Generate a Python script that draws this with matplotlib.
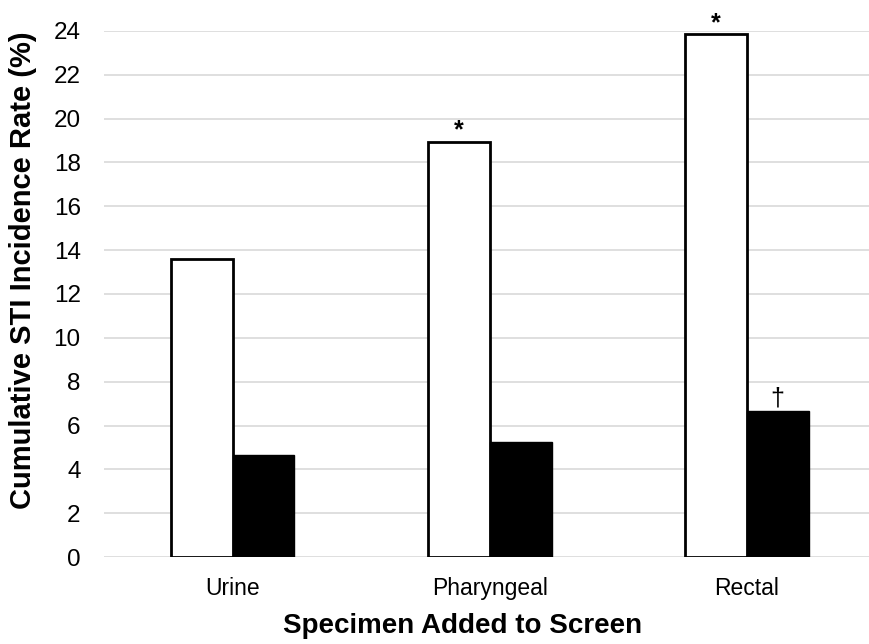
import matplotlib.pyplot as plt
import numpy as np

plt.rcParams["font.family"] = ["Liberation Sans", "DejaVu Sans"]

specimens = ["Urine", "Pharyngeal", "Rectal"]
white_vals = [13.6, 18.95, 23.85]
black_vals = [4.65, 5.25, 6.65]
white_marks = ["", "*", "*"]
black_marks = ["", "", "\u2020"]

x = np.arange(len(specimens))
w = 0.24

fig = plt.figure(figsize=(8.69, 6.44), dpi=100)
ax = fig.add_axes([0.12, 0.135, 0.88, 0.817])

ax.bar(x - w / 2, white_vals, w, color="white", edgecolor="black", linewidth=2, zorder=3)
ax.bar(x + w / 2, black_vals, w, color="black", edgecolor="black", linewidth=1, zorder=3)

for xi, v, m in zip(x - w / 2, white_vals, white_marks):
    if m:
        ax.text(xi, v - 0.05, m, ha="center", va="bottom", fontsize=18, fontweight="bold", clip_on=False)
for xi, v, m in zip(x + w / 2, black_vals, black_marks):
    if m:
        ax.text(xi, v + 0.05, m, ha="center", va="bottom", fontsize=18, clip_on=False)

ax.set_xlim(-0.5, 2.475)
ax.set_ylim(0, 24)
ax.set_yticks(range(0, 25, 2))
ax.set_xticks(x)
ax.set_xticklabels(specimens)
ax.tick_params(axis="x", length=0, labelsize=16.5, pad=14)
ax.tick_params(axis="y", length=0, labelsize=17.5, pad=17)
ax.grid(axis="y", color="#d9d9d9", linewidth=1.2, zorder=0)
for s in ax.spines.values():
    s.set_visible(False)

ax.set_ylabel("Cumulative STI Incidence Rate (%)", fontsize=21, fontweight="bold")
ax.set_xlabel("Specimen Added to Screen", fontsize=20, fontweight="bold")
ax.yaxis.set_label_coords(-0.088, 0.546)
ax.xaxis.set_label_coords(0.468, -0.106)

fig.savefig("out.png", dpi=100)
